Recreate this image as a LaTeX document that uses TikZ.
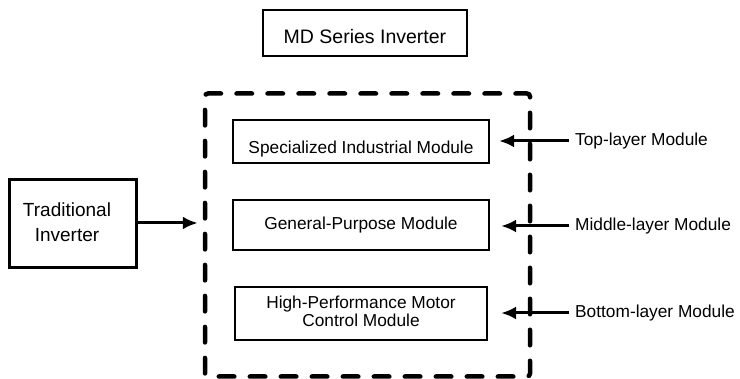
\documentclass[tikz,border=0pt]{standalone}
\usepackage{fontspec}
\setmainfont{Liberation Sans}
\usetikzlibrary{arrows.meta}
\begin{document}
\begin{tikzpicture}[x=1pt,y=-1pt,
  modbox/.style={draw=black, line width=2.2pt, inner sep=0pt, align=center,
    font=\fontsize{17.3}{18.3}\selectfont},
  framebox/.style={draw=black, line width=4.5pt, rounded corners=3pt, line cap=round,
    dash pattern=on 15.5pt off 15.5pt, dash phase=4pt, inner sep=0pt},
  laytext/.style={anchor=west, inner xsep=6pt, inner ysep=0pt, font=\fontsize{17.3}{18.3}\selectfont},
  arr/.style={line width=3pt, -{Latex[length=15pt,width=13pt]}}
]
\useasboundingbox (0,0) rectangle (740,379);
\fill[white] (0,0) rectangle (740,379);

\node[modbox, line width=2pt, minimum width=204pt, minimum height=46pt,
  text height=20.6pt, text depth=0pt,
  font=\fontsize{19.5}{21}\selectfont] (md) at (365,33) {MD Series Inverter};

\node[framebox, minimum width=325pt, minimum height=283pt] (frame) at (367.5,235) {};

\node[modbox, minimum width=256pt, minimum height=43pt, text height=24pt, text depth=0pt] (spec) at (361,141.5) {Specialized Industrial Module};
\node[modbox, minimum width=256pt, minimum height=50pt] (gen) at (361,225) {General-Purpose Module};
\node[modbox, minimum width=252pt, minimum height=53pt] (hpm) at (361,313.5) {\begin{tabular}{@{}c@{}}High-Performance Motor\\Control Module\end{tabular}};

\node[modbox, line width=3pt, minimum width=127pt, minimum height=88pt,
  font=\fontsize{19}{25}\selectfont] (trad) at (72.5,224) {\hspace*{-11pt}\begin{tabular}{@{}c@{}}Traditional\\Inverter\end{tabular}};

\node[laytext] (top) at (569,141) {Top-layer Module};
\node[laytext] (mid) at (569,226) {Middle-layer Module};
\node[laytext] (bot) at (569,313) {Bottom-layer Module};

\draw[arr] (trad.east |- 0,223) -- ([xshift=-5pt]frame.west |- 0,223);
\draw[arr] (top.west) -- ([xshift=9pt]spec.east |- top.west);
\draw[arr] (mid.west) -- ([xshift=11pt]gen.east |- mid.west);
\draw[arr] (bot.west) -- ([xshift=13pt]hpm.east |- bot.west);
\end{tikzpicture}
\end{document}
